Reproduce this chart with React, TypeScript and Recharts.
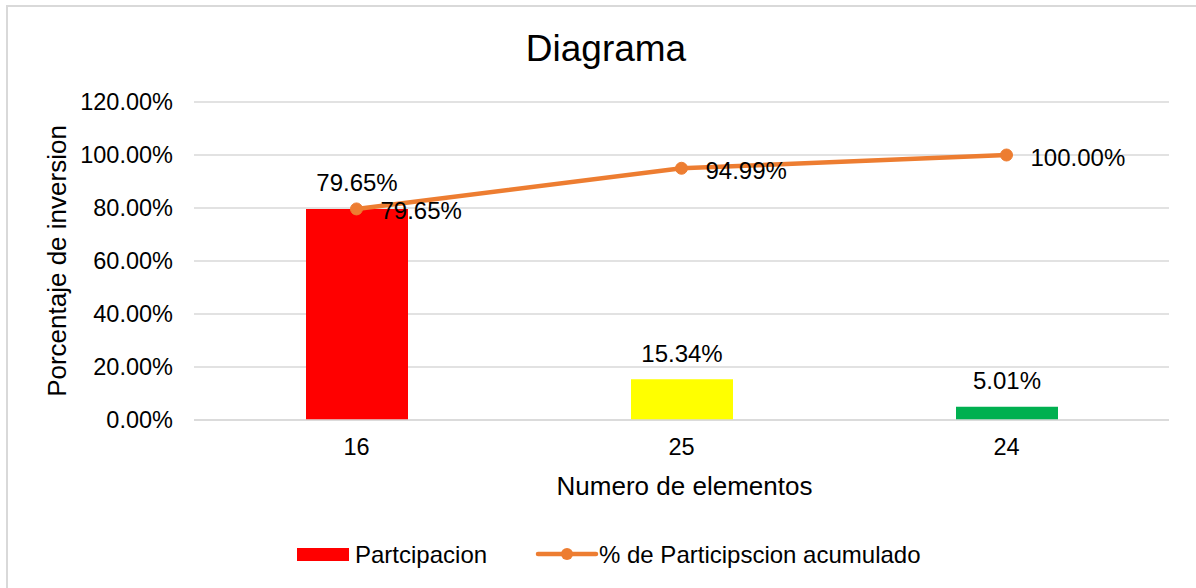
import React from 'react';
import {
  ComposedChart,
  Bar,
  Line,
  XAxis,
  YAxis,
  CartesianGrid,
  Legend,
  Cell,
  LabelList,
  Label,
} from 'recharts';

const categories = ['16', '25', '24'];
const participacion = [0.7965, 0.1534, 0.0501];
const acumulado = [0.7965, 0.9499, 1.0];
const barColors = ['#FF0000', '#FFFF00', '#00B050'];
const yTicks = [0, 0.2, 0.4, 0.6, 0.8, 1.0, 1.2];

const data = categories.map((c, i) => ({
  name: c,
  participacion: participacion[i],
  acumulado: acumulado[i],
}));

const FONT = '"Liberation Sans", Arial, sans-serif';
const pct = (v: number) => (v * 100).toFixed(2) + '%';

const LineLabel = (props: any) => {
  const { x, y, value } = props;
  return (
    <text x={x + 24} y={y + 2} fontSize={24} fontFamily={FONT} fill="#000" textAnchor="start" dominantBaseline="central">
      {pct(value)}
    </text>
  );
};

const BarLabel = (props: any) => {
  const { x, y, width, value } = props;
  return (
    <text x={x + width / 2} y={y - 26} fontSize={24} fontFamily={FONT} fill="#000" textAnchor="middle" dominantBaseline="central">
      {pct(value)}
    </text>
  );
};

const LegendContent = (props: any) => {
  const payload = props.payload || [];
  const barItem = payload.find((p: any) => p.dataKey === 'participacion');
  const lineItem = payload.find((p: any) => p.dataKey === 'acumulado');
  return (
    <svg width={1196} height={40} style={{ display: 'block' }}>
      <rect x={297} y={14} width={52} height={13} fill="#FF0000" />
      <text x={355} y={20} fontSize={24} fontFamily={FONT} fill="#000" dominantBaseline="central">
        {barItem ? barItem.value : 'Partcipacion'}
      </text>
      <line x1={538} x2={596} y1={20} y2={20} stroke="#ED7D31" strokeWidth={4.5} strokeLinecap="round" />
      <circle cx={567} cy={20} r={6} fill="#ED7D31" />
      <text x={599} y={20} fontSize={24} fontFamily={FONT} fill="#000" dominantBaseline="central">
        {lineItem ? lineItem.value : '% de Participscion acumulado'}
      </text>
    </svg>
  );
};

export default function App() {
  return (
    <div style={{ position: 'absolute', left: 0, top: 0, width: 1196, height: 588, background: '#fff', overflow: 'hidden' }}>
      <div
        style={{
          position: 'absolute',
          left: 6,
          top: 5,
          width: 1220,
          height: 620,
          border: '2px solid #d9d9d9',
          boxSizing: 'border-box',
        }}
      />
      <div
        style={{
          position: 'absolute',
          left: 8,
          top: 30,
          width: 1196,
          textAlign: 'center',
          fontFamily: FONT,
          fontSize: 37,
          lineHeight: '38px',
          color: '#000',
        }}
      >
        Diagrama
      </div>
      <div style={{ position: 'absolute', left: 0, top: 0 }}>
        <ComposedChart
          width={1196}
          height={588}
          data={data}
          margin={{ top: 102, right: 27, left: 0, bottom: 14 }}
          barCategoryGap="34%"
        >
          <CartesianGrid vertical={false} stroke="#d9d9d9" strokeWidth={1.5} />
          <XAxis
            dataKey="name"
            height={114}
            axisLine={{ stroke: '#d9d9d9', strokeWidth: 1.5 }}
            tickLine={false}
            tickMargin={12}
            tick={{ fontSize: 23.5, fontFamily: FONT, fill: '#000' }}
          >
            <Label
              content={(p: any) => {
                const vb = p.viewBox;
                return (
                  <text x={vb.x + vb.width / 2 + 3} y={vb.y + 66} fontSize={26} fontFamily={FONT} fill="#000" textAnchor="middle" dominantBaseline="central">
                    Numero de elementos
                  </text>
                );
              }}
            />
          </XAxis>
          <YAxis
            width={194}
            domain={[0, 1.2]}
            ticks={yTicks}
            axisLine={false}
            tickLine={false}
            tickFormatter={pct}
            tickMargin={15}
            tick={{ fontSize: 23.5, fontFamily: FONT, fill: '#000' }}
          >
            <Label
              content={(p: any) => {
                const vb = p.viewBox;
                const cy = vb.y + vb.height / 2;
                return (
                  <text x={57} y={cy} fontSize={26} fontFamily={FONT} fill="#000" textAnchor="middle" dominantBaseline="central" transform={`rotate(-90, 57, ${cy})`}>
                    Porcentaje de inversion
                  </text>
                );
              }}
            />
          </YAxis>
          <Legend
            verticalAlign="bottom"
            content={LegendContent}
            wrapperStyle={{ left: 0, width: 1196, height: 40 }}
          />
          <Bar dataKey="participacion" name="Partcipacion" fill="#FF0000" barSize={102} isAnimationActive={false}>
            {data.map((d, i) => (
              <Cell key={d.name} fill={barColors[i]} />
            ))}
            <LabelList dataKey="participacion" content={BarLabel} />
          </Bar>
          <Line
            dataKey="acumulado"
            name="% de Participscion acumulado"
            type="linear"
            stroke="#ED7D31"
            strokeWidth={4.5}
            dot={{ r: 6, fill: '#ED7D31', stroke: '#ED7D31', strokeWidth: 1 }}
            activeDot={false}
            isAnimationActive={false}
          >
            <LabelList dataKey="acumulado" content={LineLabel} />
          </Line>
        </ComposedChart>
      </div>
    </div>
  );
}
